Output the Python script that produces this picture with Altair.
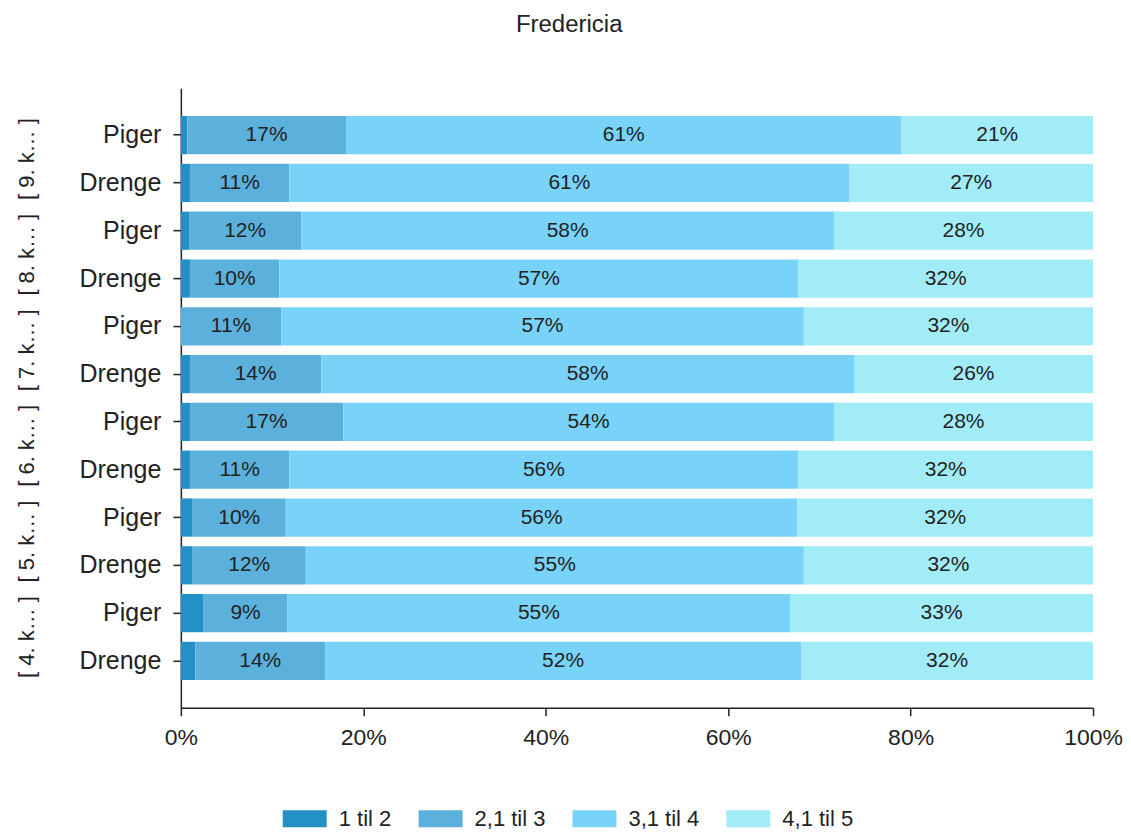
import altair as alt
import pandas as pd

title_text = "Fredericia"
categories = ["1 til 2", "2,1 til 3", "3,1 til 4", "4,1 til 5"]
colors = ["#2390c6", "#5bb0dc", "#79d3f8", "#a2ecf8"]

grades = ["9", "9", "8", "8", "7", "7", "6", "6", "5", "5", "4", "4"]
genders = ["Piger", "Drenge"] * 6
s1 = [0.7, 1.0, 0.9, 1.0, 0.0, 1.0, 1.0, 1.0, 1.3, 1.3, 2.5, 1.6]
s2 = [17.4, 10.9, 12.3, 9.8, 11.0, 14.4, 16.8, 10.9, 10.2, 12.4, 9.2, 14.2]
s3 = [60.9, 61.4, 58.4, 56.9, 57.3, 58.4, 53.8, 55.8, 56.1, 54.6, 55.1, 52.2]
s4 = [21.0, 26.7, 28.4, 32.3, 31.7, 26.2, 28.4, 32.3, 32.4, 31.7, 33.2, 32.0]
group_names = ["9", "8", "7", "6", "5", "4"]
group_labels = ["[     9. k…     ]", "[     8. k…     ]", "[     7. k…     ]",
                "[     6. k…     ]", "[     5. k…     ]", "[     4. k…     ]"]

FONT = "Liberation Sans"

rows = []
row_order = []
for i, (g, s) in enumerate(zip(grades, genders)):
    key = f"{g}. klasse|{s}"
    row_order.append(key)
    for ci, vals in enumerate([s1, s2, s3, s4]):
        rows.append({"row": key, "category": categories[ci], "cat_idx": ci, "value": vals[i]})
df = pd.DataFrame(rows)

grp_df = pd.DataFrame({
    "row": [f"{g}. klasse|Piger" for g in group_names],
    "glabel": group_labels,
})

y_enc = alt.Y(
    "row:N",
    sort=row_order,
    scale=alt.Scale(paddingInner=0.2, paddingOuter=0.58),
    axis=alt.Axis(
        title=None,
        labelExpr="split(datum.value, '|')[1]",
        labelFontSize=25,
        labelPadding=12,
        tickSize=8,
        labelLimit=300,
    ),
)

bars = alt.Chart(df).mark_bar().encode(
    y=y_enc,
    x=alt.X(
        "value:Q",
        stack="zero",
        scale=alt.Scale(domain=[0, 100]),
        axis=alt.Axis(
            title=None,
            values=[0, 20, 40, 60, 80, 100],
            labelExpr="datum.value + '%'",
            labelFontSize=23,
            labelFlush=False,
            tickSize=8,
            labelPadding=11,
            grid=False,
        ),
    ),
    color=alt.Color(
        "category:N",
        scale=alt.Scale(domain=categories, range=colors),
        legend=alt.Legend(
            title=None,
            orient="none",
            direction="horizontal",
            columns=4,
            legendX=113,
            legendY=720,
            symbolType="M-2.2,-0.85L2.2,-0.85L2.2,0.85L-2.2,0.85Z",
            symbolSize=400,
            symbolStrokeWidth=0,
            symbolOpacity=1,
            labelFontSize=22,
            labelOffset=23,
            columnPadding=27,
            labelFont=FONT,
            labelColor="#222222",
            padding=0,
        ),
    ),
    order=alt.Order("cat_idx:Q"),
)

labels = (
    alt.Chart(df)
    .transform_stack(stack="value", as_=["v0", "v1"], groupby=["row"], sort=[alt.SortField("cat_idx")])
    .transform_calculate(mid="(datum.v0 + datum.v1) / 2", lbl="format(datum.value, '.0f') + '%'")
    .transform_filter("datum.value >= 5")
    .mark_text(fontSize=21, font=FONT, color="#222222")
    .encode(x=alt.X("mid:Q"), y=y_enc, text="lbl:N")
)

outer = (
    alt.Chart(grp_df)
    .mark_text(angle=270, dx=-24, fontSize=22, font=FONT, color="#222222", align="center", baseline="middle")
    .encode(x=alt.value(-154), y=y_enc, text="glabel:N")
)

chart = (
    alt.layer(bars, labels, outer)
    .properties(
        width=913,
        height=620,
        padding={"left": 7, "top": 5, "right": 0, "bottom": 0},
        title=alt.TitleParams(
            title_text, fontSize=24, font=FONT, fontWeight="normal", anchor="middle",
            frame="bounds", offset=51, color="#222222",
        ),
    )
    .configure_view(stroke=None)
    .configure_axis(
        domainColor="#222222", tickColor="#222222", labelColor="#222222",
        labelFont=FONT, domainWidth=1.5, tickWidth=1.5,
    )
)

chart.save("out.html", embed_options={"renderer": "svg", "actions": False})
